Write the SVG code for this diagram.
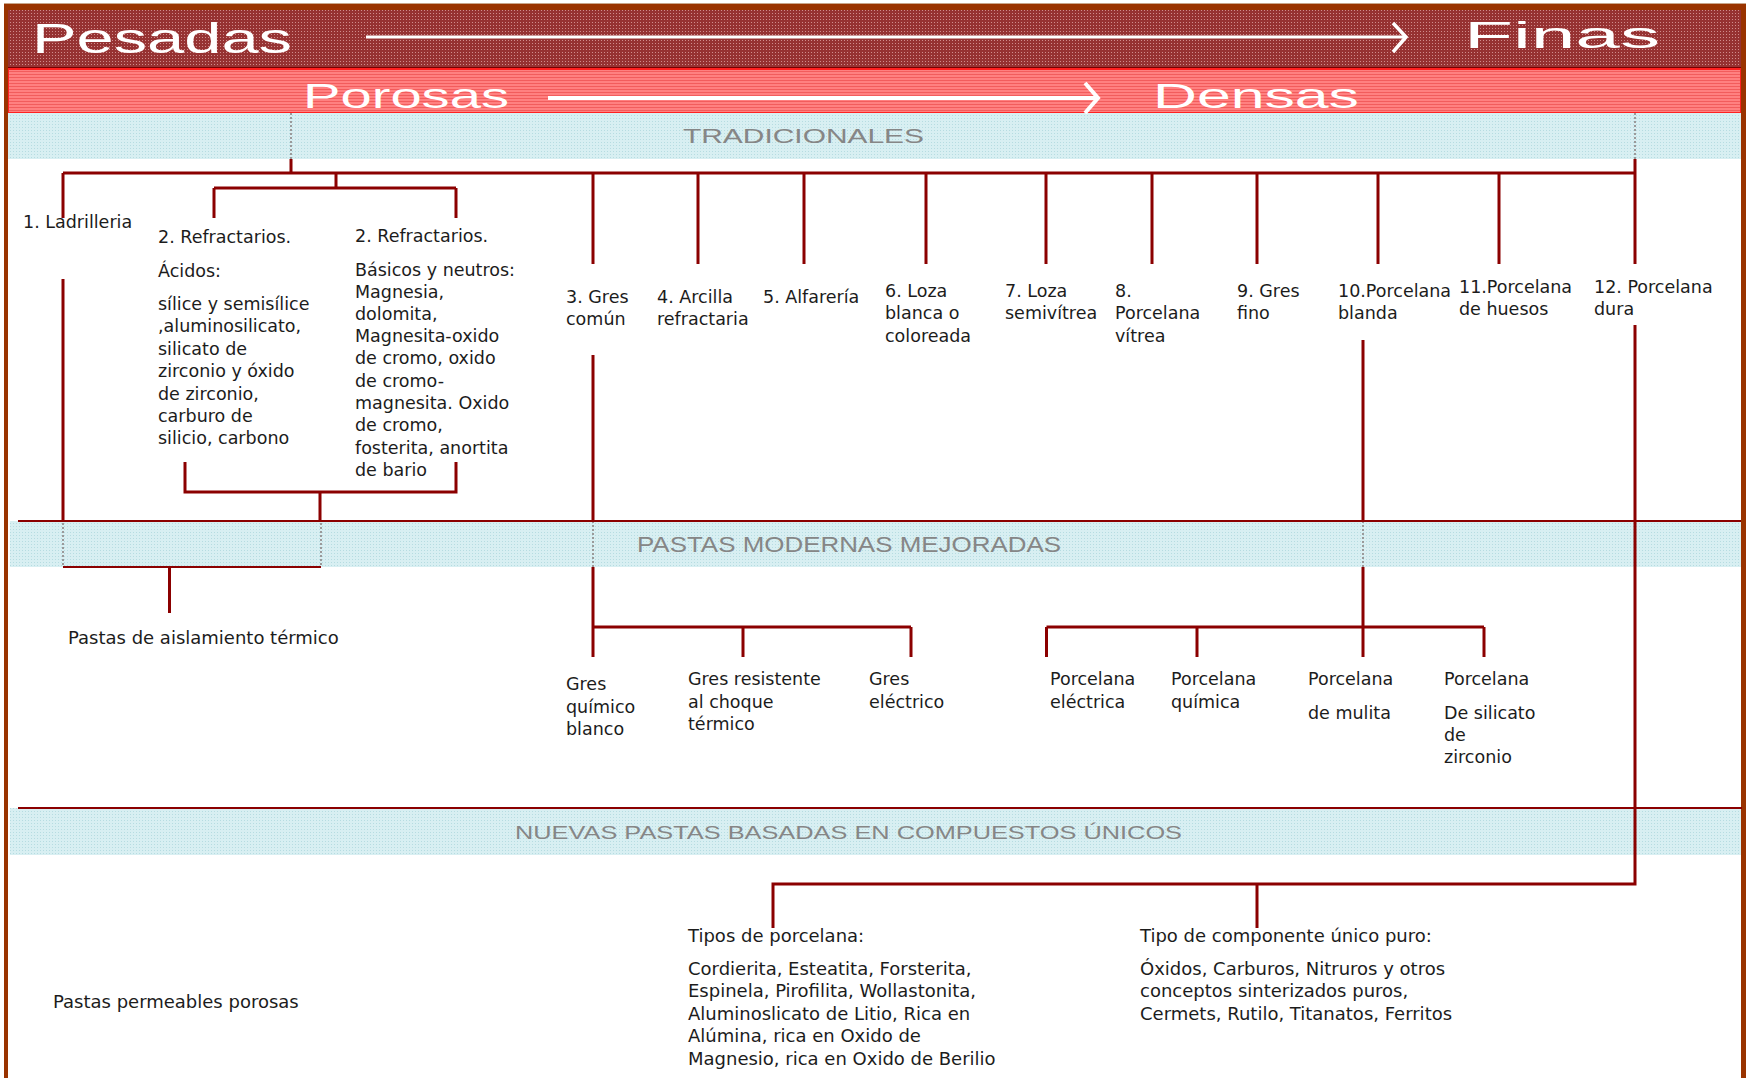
<svg xmlns="http://www.w3.org/2000/svg" width="1748" height="1078" viewBox="0 0 1748 1078">
<defs>
<pattern id="pPes" width="3" height="3" patternUnits="userSpaceOnUse"><rect width="3" height="3" fill="#963232"/><rect x="1" y="1" width="1" height="1" fill="#d08c8c"/></pattern>
<pattern id="pPor" width="3" height="3" patternUnits="userSpaceOnUse"><rect width="3" height="3" fill="#ff8080"/><rect y="2" width="3" height="1" fill="#f25c5c"/></pattern>
<pattern id="pBlue" width="3" height="3" patternUnits="userSpaceOnUse"><rect width="3" height="3" fill="#d8eff2"/><rect x="1" y="1" width="1" height="1" fill="#b6dce1"/></pattern>
<style>
.t{font-family:"DejaVu Sans","Liberation Sans",sans-serif;font-size:17.5px;fill:#1c1c1c}
.tb{font-family:"DejaVu Sans","Liberation Sans",sans-serif;font-size:18px;fill:#1c1c1c}
.hdr{font-family:"Liberation Sans",Arial,sans-serif;fill:#ffffff}
.bt{font-family:"Liberation Sans",Arial,sans-serif;fill:#868686}
.ln{stroke:#8b0000;stroke-width:3;fill:none}
.thin{stroke:#8b0000;stroke-width:2;fill:none}
.dash{stroke:#9a9a9a;stroke-width:2;stroke-dasharray:2 2;fill:none}
.wl{stroke:#ffffff;fill:none}
</style>
</defs>
<rect width="1748" height="1078" fill="#ffffff"/>
<g id="frame">
<rect x="8" y="10" width="1733" height="57" fill="url(#pPes)"/>
<rect x="8" y="67" width="1733" height="2" fill="#7a0000"/>
<rect x="8" y="69" width="1733" height="44" fill="url(#pPor)" stroke="#ff2020" stroke-width="2"/>
<rect x="8" y="113" width="1734" height="46" fill="url(#pBlue)"/>
<rect x="10" y="521" width="1731" height="46" fill="url(#pBlue)"/>
<rect x="10" y="808" width="1732" height="47" fill="url(#pBlue)"/>
<rect x="4" y="3" width="1742" height="1" fill="#c9a58a"/>
<rect x="4" y="4" width="1742" height="6" fill="#993300"/>
<rect x="4" y="4" width="4" height="1074" fill="#993300"/>
<rect x="1741" y="4" width="5" height="1074" fill="#993300"/>
</g>
<g id="headers">
<text class="hdr" x="32" y="53" font-size="42" textLength="260" lengthAdjust="spacingAndGlyphs">Pesadas</text>
<line class="wl" x1="366" y1="37" x2="1405" y2="37" stroke-width="3"/>
<polyline class="wl" points="1393,23 1406,37 1393,52" stroke-width="3.5"/>
<text class="hdr" x="1464" y="48" font-size="36" textLength="196" lengthAdjust="spacingAndGlyphs">Finas</text>
<text class="hdr" x="303" y="108" font-size="35" textLength="206" lengthAdjust="spacingAndGlyphs">Porosas</text>
<line class="wl" x1="548" y1="98" x2="1096" y2="98" stroke-width="4"/>
<polyline class="wl" points="1085,83 1098,98 1085,113" stroke-width="4"/>
<text class="hdr" x="1153" y="108" font-size="35" textLength="206" lengthAdjust="spacingAndGlyphs">Densas</text>
<text class="bt" x="683" y="143" font-size="21" textLength="241" lengthAdjust="spacingAndGlyphs">TRADICIONALES</text>
<text class="bt" x="637" y="552" font-size="22" textLength="424" lengthAdjust="spacingAndGlyphs">PASTAS MODERNAS MEJORADAS</text>
<text class="bt" x="515" y="839" font-size="18" textLength="667" lengthAdjust="spacingAndGlyphs">NUEVAS PASTAS BASADAS EN COMPUESTOS ÚNICOS</text>
</g>
<g id="connectors">
<path class="dash" d="M291 113V159M1635 113V159M593 521V567M1363 521V567"/>
<rect class="dash" x="63" y="521" width="258" height="46"/>
<path class="thin" d="M18 521H1741M18 808H1742M63 567H321"/>
<path class="ln" d="M291 159V173M63 173H1635M63 173V218M63 279V521"/>
<path class="ln" d="M336 173V188M214 188H456M214 188V218M456 188V218"/>
<path class="ln" d="M185 462V492H456V462M320 492V521M169.5 567V613"/>
<path class="ln" d="M593 173V264M698 173V264M804 173V264M926 173V264M1046 173V264M1152 173V264M1257 173V264M1378 173V264M1499 173V264"/>
<path class="ln" d="M1635 159V264M1635 325V884H773V928M1257 884V928"/>
<path class="ln" d="M593 355V521M593 567V657M593 627H911M743 627V657M911 627V657"/>
<path class="ln" d="M1363 340V521M1363 567V657M1046.5 627H1484M1046.5 627V657M1197 627V657M1484 627V657"/>
</g>
<g id="n1"><text class="t" x="23" y="228">1. Ladrilleria</text></g>
<g id="n2a"><text class="t" x="158"><tspan x="158" y="243">2. Refractarios.</tspan><tspan x="158" y="277">Ácidos:</tspan><tspan x="158" y="310">sílice y semisílice</tspan><tspan x="158" y="332">,aluminosilicato,</tspan><tspan x="158" y="355">silicato de</tspan><tspan x="158" y="377">zirconio y óxido</tspan><tspan x="158" y="400">de zirconio,</tspan><tspan x="158" y="422">carburo de</tspan><tspan x="158" y="444">silicio, carbono</tspan></text></g>
<g id="n2b"><text class="t"><tspan x="355" y="242">2. Refractarios.</tspan><tspan x="355" y="276">Básicos y neutros:</tspan><tspan x="355" y="298">Magnesia,</tspan><tspan x="355" y="320">dolomita,</tspan><tspan x="355" y="342">Magnesita-oxido</tspan><tspan x="355" y="364">de cromo, oxido</tspan><tspan x="355" y="387">de cromo-</tspan><tspan x="355" y="409">magnesita. Oxido</tspan><tspan x="355" y="431">de cromo,</tspan><tspan x="355" y="454">fosterita, anortita</tspan><tspan x="355" y="476">de bario</tspan></text></g>
<g id="n3"><text class="t"><tspan x="566" y="303">3. Gres</tspan><tspan x="566" y="325">común</tspan></text></g>
<g id="n4"><text class="t"><tspan x="657" y="303">4. Arcilla</tspan><tspan x="657" y="325">refractaria</tspan></text></g>
<g id="n5"><text class="t" x="763" y="303">5. Alfarería</text></g>
<g id="n6"><text class="t"><tspan x="885" y="297">6. Loza</tspan><tspan x="885" y="319">blanca o</tspan><tspan x="885" y="342">coloreada</tspan></text></g>
<g id="n7"><text class="t"><tspan x="1005" y="297">7. Loza</tspan><tspan x="1005" y="319">semivítrea</tspan></text></g>
<g id="n8"><text class="t"><tspan x="1115" y="297">8.</tspan><tspan x="1115" y="319">Porcelana</tspan><tspan x="1115" y="342">vítrea</tspan></text></g>
<g id="n9"><text class="t"><tspan x="1237" y="297">9. Gres</tspan><tspan x="1237" y="319">fino</tspan></text></g>
<g id="n10"><text class="t"><tspan x="1338" y="297">10.Porcelana</tspan><tspan x="1338" y="319">blanda</tspan></text></g>
<g id="n11"><text class="t"><tspan x="1459" y="293">11.Porcelana</tspan><tspan x="1459" y="315">de huesos</tspan></text></g>
<g id="n12"><text class="t"><tspan x="1594" y="293">12. Porcelana</tspan><tspan x="1594" y="315">dura</tspan></text></g>
<g id="m1"><text class="tb" x="68" y="644">Pastas de aislamiento térmico</text></g>
<g id="m2"><text class="t"><tspan x="566" y="690">Gres</tspan><tspan x="566" y="713">químico</tspan><tspan x="566" y="735">blanco</tspan></text></g>
<g id="m3"><text class="t"><tspan x="688" y="685">Gres resistente</tspan><tspan x="688" y="708">al choque</tspan><tspan x="688" y="730">térmico</tspan></text></g>
<g id="m4"><text class="t"><tspan x="869" y="685">Gres</tspan><tspan x="869" y="708">eléctrico</tspan></text></g>
<g id="m5"><text class="t"><tspan x="1050" y="685">Porcelana</tspan><tspan x="1050" y="708">eléctrica</tspan></text></g>
<g id="m6"><text class="t"><tspan x="1171" y="685">Porcelana</tspan><tspan x="1171" y="708">química</tspan></text></g>
<g id="m7"><text class="t"><tspan x="1308" y="685">Porcelana</tspan><tspan x="1308" y="719">de mulita</tspan></text></g>
<g id="m8"><text class="t"><tspan x="1444" y="685">Porcelana</tspan><tspan x="1444" y="719">De silicato</tspan><tspan x="1444" y="741">de</tspan><tspan x="1444" y="763">zirconio</tspan></text></g>
<g id="b1"><text class="tb" x="53" y="1008">Pastas permeables porosas</text></g>
<g id="b2"><text class="tb"><tspan x="688" y="942">Tipos de porcelana:</tspan><tspan x="688" y="975">Cordierita, Esteatita, Forsterita,</tspan><tspan x="688" y="997">Espinela, Pirofilita, Wollastonita,</tspan><tspan x="688" y="1020">Aluminoslicato de Litio, Rica en</tspan><tspan x="688" y="1042">Alúmina, rica en Oxido de</tspan><tspan x="688" y="1065">Magnesio, rica en Oxido de Berilio</tspan></text></g>
<g id="b3"><text class="tb"><tspan x="1140" y="942">Tipo de componente único puro:</tspan><tspan x="1140" y="975">Óxidos, Carburos, Nitruros y otros</tspan><tspan x="1140" y="997">conceptos sinterizados puros,</tspan><tspan x="1140" y="1020">Cermets, Rutilo, Titanatos, Ferritos</tspan></text></g>
</svg>
